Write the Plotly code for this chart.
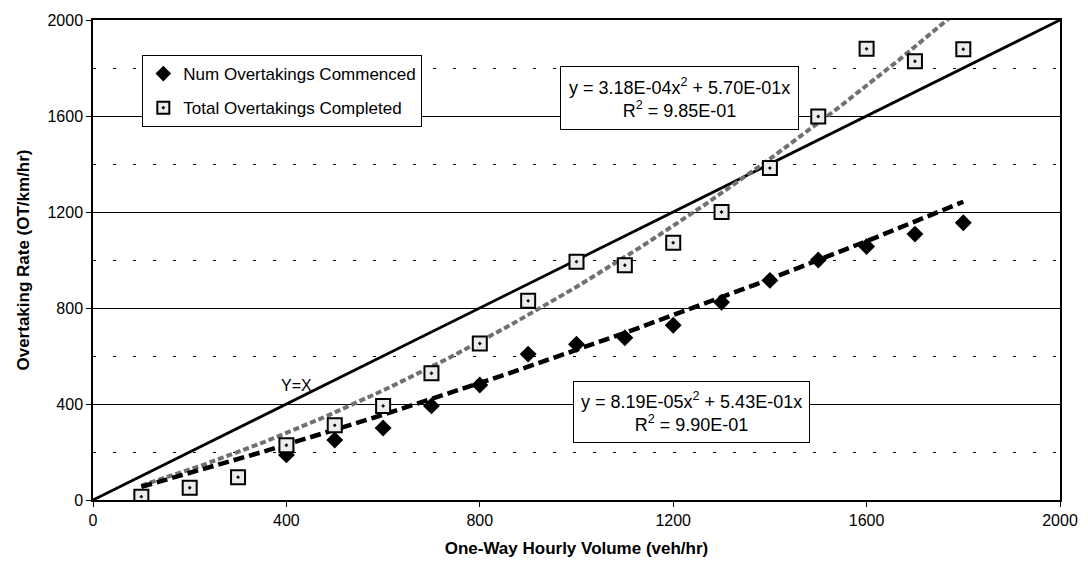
import numpy as np
import plotly.graph_objects as go

# Data
volume = [100, 200, 300, 400, 500, 600, 700, 800, 900, 1000, 1100, 1200, 1300, 1400, 1500, 1600, 1700, 1800]
commenced = [None, None, None, 188, 250, 300, 392, 479, 608, 649, 676, 728, 824, 915, 1000, 1056, 1108, 1155]
completed = [14, 51, 95, 228, 311, 392, 528, 652, 830, 993, 978, 1072, 1200, 1383, 1598, 1880, 1828, 1878]

# Trendline coefficients (y = a x^2 + b x)
comm_a, comm_b = 8.19e-05, 5.43e-01
comp_a, comp_b = 3.18e-04, 5.70e-01

x_ticks = [0, 400, 800, 1200, 1600, 2000]
y_ticks = [0, 400, 800, 1200, 1600, 2000]

xs = np.linspace(min(volume), max(volume), 200)
comm_fit = comm_a * xs**2 + comm_b * xs
comp_fit = comp_a * xs**2 + comp_b * xs

FONT = "Liberation Sans, Arial, sans-serif"

fig = go.Figure()

# Y = X line
fig.add_trace(go.Scatter(x=[0, 2000], y=[0, 2000], mode="lines",
                         line=dict(color="black", width=2.8), showlegend=False, hoverinfo="skip"))

# Trend for completed (gray dashed)
fig.add_trace(go.Scatter(x=xs, y=comp_fit, mode="lines",
                         line=dict(color="#707070", width=4, dash="6px,3px"),
                         showlegend=False, hoverinfo="skip"))
# Trend for commenced (black dashed)
fig.add_trace(go.Scatter(x=xs, y=comm_fit, mode="lines",
                         line=dict(color="black", width=4.5, dash="11px,5px"),
                         showlegend=False, hoverinfo="skip"))

fig.add_trace(go.Scatter(x=volume, y=commenced, mode="markers", name="Num Overtakings Commenced",
                         legendgroup="a",
                         marker=dict(symbol="diamond", size=13, color="black")))
fig.add_trace(go.Scatter(x=volume, y=completed, mode="markers", name="Total Overtakings Completed",
                         legendgroup="b",
                         marker=dict(symbol="square-dot", size=14, color="#ececec",
                                     line=dict(color="black", width=2))))

fig.add_annotation(x=421, y=479, text="Y=X", showarrow=False,
                   font=dict(family=FONT, size=16, color="black"))

fig.add_annotation(x=1214, y=1675,
                   text="y = 3.18E-04x<sup>2</sup> + 5.70E-01x<br>R<sup>2</sup> = 9.85E-01",
                   showarrow=False, align="center", bgcolor="white",
                   bordercolor="black", borderwidth=1, borderpad=8,
                   font=dict(family=FONT, size=18, color="black"))
fig.add_annotation(x=1238, y=367,
                   text="y = 8.19E-05x<sup>2</sup> + 5.43E-01x<br>R<sup>2</sup> = 9.90E-01",
                   showarrow=False, align="center", bgcolor="white",
                   bordercolor="black", borderwidth=1, borderpad=7,
                   font=dict(family=FONT, size=18, color="black"))

fig.update_layout(
    width=1072, height=556,
    margin=dict(l=85, r=20, t=12, b=64, autoexpand=False),
    paper_bgcolor="white", plot_bgcolor="white",
    font=dict(family=FONT, size=16, color="black"),
    legend=dict(x=0.051, y=0.927, xanchor="left", yanchor="top",
                bgcolor="white", bordercolor="black", borderwidth=1,
                font=dict(family=FONT, size=17, color="black"),
                traceorder="grouped", tracegroupgap=9, itemsizing="constant"),
)

fig.update_xaxes(
    range=[0, 2000], tickvals=x_ticks, ticktext=[str(v) for v in x_ticks],
    showgrid=False, zeroline=False, showline=True, linecolor="black", linewidth=1.5,
    mirror=True, ticks="outside", ticklen=5, tickcolor="black", automargin=False,
    tickfont=dict(family=FONT, size=16),
    title=dict(text="<b>One-Way Hourly Volume (veh/hr)</b>", font=dict(family=FONT, size=17), standoff=14),
)
fig.update_yaxes(
    range=[0, 2000], tickvals=y_ticks, ticktext=[str(v) for v in y_ticks],
    showgrid=True, gridcolor="black", gridwidth=1,
    zeroline=False, showline=True, linecolor="black", linewidth=1.5,
    mirror=True, ticks="outside", ticklen=5, tickcolor="black", automargin=False,
    tickfont=dict(family=FONT, size=16),
    minor=dict(tickvals=[200, 600, 1000, 1400, 1800], showgrid=True, gridcolor="black",
               gridwidth=1, griddash="3px,17px"),
    title=dict(text="<b>Overtaking Rate (OT/km/hr)</b>", font=dict(family=FONT, size=17), standoff=14),
)

fig.write_html("out.html")
